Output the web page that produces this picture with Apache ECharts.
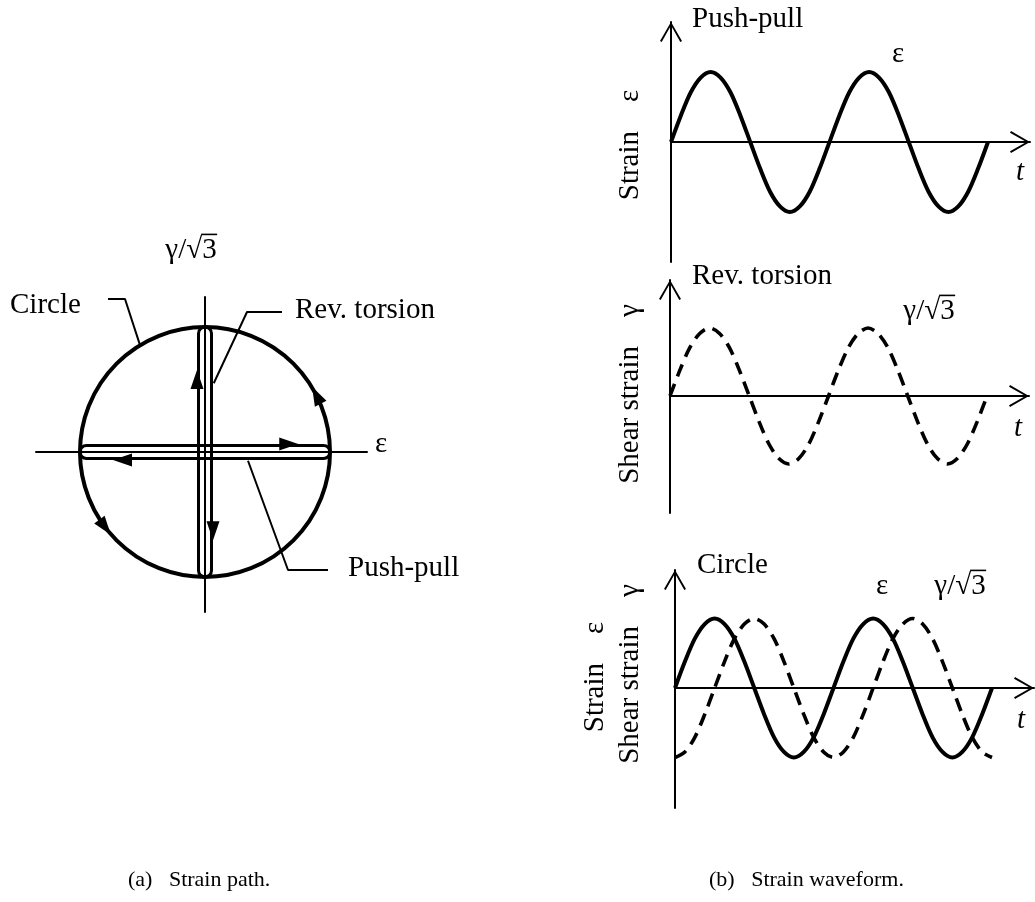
<!DOCTYPE html>
<html>
<head>
<meta charset="utf-8">
<script src="https://cdn.jsdelivr.net/npm/echarts@6/dist/echarts.min.js"></script>
<style>
  html, body { margin: 0; padding: 0; background: #fff; }
  #chart { width: 1035px; height: 902px; }
</style>
</head>
<body>
<div id="chart"></div>
<script>
// ---- (a) Strain path in the (ε, γ/√3) plane ----
// end points of the two proportional paths
const pushPullPath = [[-1, 0], [1, 0]];
const revTorsionPath = [[0, -1], [0, 1]];
// circular path: centre ε, centre γ/√3, radius
const circlePath = [[0, 0, 1]];
// direction arrows on the proportional paths: ε, γ/√3, heading (deg)
const loopArrows = [[0.67, 0, 0], [-0.66, 0, 180], [0, 0.58, 90], [0, -0.63, 270]];
// direction arrows on the circle: ε, γ/√3
const circleArrows = [[0.891, 0.454], [-0.799, -0.602]];

// ---- (b) Strain waveforms, time in quarter cycles ----
const timeQ = [0, 0.25, 0.5, 0.75, 1, 1.25, 1.5, 1.75, 2, 2.25, 2.5, 2.75, 3, 3.25, 3.5, 3.75,
               4, 4.25, 4.5, 4.75, 5, 5.25, 5.5, 5.75, 6, 6.25, 6.5, 6.75, 7, 7.25, 7.5, 7.75, 8];
const epsPushPull = [0, 0.38, 0.71, 0.92, 1, 0.92, 0.71, 0.38, 0, -0.38, -0.71, -0.92, -1, -0.92, -0.71, -0.38,
                     0, 0.38, 0.71, 0.92, 1, 0.92, 0.71, 0.38, 0, -0.38, -0.71, -0.92, -1, -0.92, -0.71, -0.38, 0];
const gamRevTorsion = [0, 0.38, 0.71, 0.92, 1, 0.92, 0.71, 0.38, 0, -0.38, -0.71, -0.92, -1, -0.92, -0.71, -0.38,
                       0, 0.38, 0.71, 0.92, 1, 0.92, 0.71, 0.38, 0, -0.38, -0.71, -0.92, -1, -0.92, -0.71, -0.38, 0];
const epsCircle = [0, 0.38, 0.71, 0.92, 1, 0.92, 0.71, 0.38, 0, -0.38, -0.71, -0.92, -1, -0.92, -0.71, -0.38,
                   0, 0.38, 0.71, 0.92, 1, 0.92, 0.71, 0.38, 0, -0.38, -0.71, -0.92, -1, -0.92, -0.71, -0.38, 0];
const gamCircle = [-1, -0.92, -0.71, -0.38, 0, 0.38, 0.71, 0.92, 1, 0.92, 0.71, 0.38, 0, -0.38, -0.71, -0.92,
                   -1, -0.92, -0.71, -0.38, 0, 0.38, 0.71, 0.92, 1, 0.92, 0.71, 0.38, 0, -0.38, -0.71, -0.92, -1];

const SERIF = '"Liberation Serif", "Times New Roman", "DejaVu Serif", serif';
const FONT = '29px ' + SERIF;

const chart = echarts.init(document.getElementById('chart'), null, { renderer: 'canvas' });

// open chevron used as axis arrow head (pointing up in symbol space)
const chevron = 'path://M11,0L22,19L20.3,20L11,3.6L1.7,20L0,19Z';

function pathAxis(gridIndex, min, max) {
  return {
    type: 'value', gridIndex, min, max,
    axisLine: { onZero: true, lineStyle: { color: '#000', width: 2 } },
    axisTick: { show: false }, axisLabel: { show: false }, splitLine: { show: false }
  };
}
function waveAxis(gridIndex, min, max) {
  return {
    type: 'value', gridIndex, min, max,
    axisLine: {
      onZero: true, lineStyle: { color: '#000', width: 2 },
      symbol: ['none', chevron], symbolSize: [22, 20], symbolOffset: [0, -10]
    },
    axisTick: { show: false }, axisLabel: { show: false }, splitLine: { show: false }
  };
}
const pairs = (xs, ys) => xs.map((x, k) => [x, ys[k]]);

function waveSeries(idx, values, dashed) {
  return {
    type: 'line', xAxisIndex: idx, yAxisIndex: idx, smooth: 0.3,
    showSymbol: false, silent: true, clip: false,
    data: pairs(timeQ, values),
    lineStyle: dashed
      ? { color: '#000', width: 3.6, type: [13, 8], cap: 'butt' }
      : { color: '#000', width: 4 }
  };
}

function leaderSeries(points) {
  return {
    type: 'line', xAxisIndex: 0, yAxisIndex: 0, showSymbol: false, silent: true,
    data: points, lineStyle: { color: '#000', width: 2 }
  };
}

const HW = 6.5; // half width of the proportional-path loops, px

function arrowItem(x, y, heading, dist) {
  const a = (heading + 90) * Math.PI / 180;
  return {
    value: [x, y],
    symbolRotate: heading - 90,
    symbolOffset: [Math.cos(a) * dist, -Math.sin(a) * dist]
  };
}

// "γ/√3" with the vinculum drawn over the 3
const measureCtx = document.createElement('canvas').getContext('2d');
function rootLabel(cx, cy) {
  measureCtx.font = FONT;
  measureCtx.textBaseline = 'middle';
  const wHead = measureCtx.measureText('γ/√').width;
  const wAll = measureCtx.measureText('γ/√3').width;
  const top = measureCtx.measureText('√').actualBoundingBoxAscent;
  const x0 = cx - wAll / 2;
  const yBar = cy - top + 0.8;
  return [
    { type: 'text', x: x0, y: cy, style: { text: 'γ/√3', font: FONT, fill: '#000', align: 'left', verticalAlign: 'middle' } },
    { type: 'line', shape: { x1: x0 + wHead - 1, y1: yBar, x2: x0 + wAll + 0.5, y2: yBar },
      style: { stroke: '#000', lineWidth: 1.6 } }
  ];
}

function label(text, x, y, align, extra) {
  return Object.assign({ type: 'text', x, y,
    style: { text, font: FONT, fill: '#000', align: align || 'center', verticalAlign: 'middle' } }, extra || {});
}
function italicLabel(text, x, y) {
  return { type: 'text', x, y,
    style: { text, font: 'italic ' + FONT, fill: '#000', align: 'center', verticalAlign: 'middle' } };
}
function sideLabel(text, x, y) {
  return label(text, x, y, 'center', { rotation: Math.PI / 2 });
}

const option = {
  animation: false,
  backgroundColor: '#fff',
  grid: [
    { left: 36, top: 297, width: 331, height: 315 },
    { left: 671, top: 22, width: 359, height: 240 },
    { left: 670, top: 280, width: 359, height: 233 },
    { left: 675, top: 570, width: 359, height: 238 }
  ],
  xAxis: [
    pathAxis(0, -1.352, 1.296),
    waveAxis(1, 0, 9.06),
    waveAxis(2, 0, 9.06),
    waveAxis(3, 0, 9.06)
  ],
  yAxis: [
    pathAxis(0, -1.28, 1.24),
    waveAxis(1, -1.714, 1.714),
    waveAxis(2, -1.721, 1.706),
    waveAxis(3, -1.727, 1.698)
  ],
  series: [
    {
      type: 'custom', xAxisIndex: 0, yAxisIndex: 0, silent: true,
      data: circlePath,
      renderItem(params, api) {
        const c = api.coord([api.value(0), api.value(1)]);
        const r = api.size([api.value(2), 0])[0];
        return { type: 'circle', shape: { cx: c[0], cy: c[1], r },
                 style: { fill: 'none', stroke: '#000', lineWidth: 4 } };
      }
    },
    {
      type: 'custom', xAxisIndex: 0, yAxisIndex: 0, silent: true,
      data: [pushPullPath[0].concat(pushPullPath[1]), revTorsionPath[0].concat(revTorsionPath[1])],
      renderItem(params, api) {
        const a = api.coord([api.value(0), api.value(1)]);
        const b = api.coord([api.value(2), api.value(3)]);
        let x0 = Math.min(a[0], b[0]), x1 = Math.max(a[0], b[0]);
        let y0 = Math.min(a[1], b[1]), y1 = Math.max(a[1], b[1]);
        if (x1 - x0 < y1 - y0) { x0 -= HW; x1 += HW; } else { y0 -= HW; y1 += HW; }
        return { type: 'rect', shape: { x: x0, y: y0, width: x1 - x0, height: y1 - y0, r: HW },
                 style: { fill: 'none', stroke: '#000', lineWidth: 3 } };
      }
    },
    {
      type: 'scatter', xAxisIndex: 0, yAxisIndex: 0, silent: true,
      symbol: 'triangle', symbolSize: [13, 19], itemStyle: { color: '#000', opacity: 1 },
      data: loopArrows.map(d => arrowItem(d[0], d[1], d[2], HW + 1.5))
    },
    {
      type: 'scatter', xAxisIndex: 0, yAxisIndex: 0, silent: true,
      symbol: 'triangle', symbolSize: [13, 19], itemStyle: { color: '#000', opacity: 1 },
      data: circleArrows.map(d => arrowItem(d[0], d[1], Math.atan2(d[1], d[0]) * 180 / Math.PI + 90, 0))
    },
    leaderSeries([[-0.776, 1.224], [-0.64, 1.224], [-0.52, 0.855]]),
    leaderSeries([[0.616, 1.12], [0.336, 1.12], [0.07, 0.55]]),
    leaderSeries([[0.344, -0.07], [0.664, -0.944], [0.984, -0.944]]),

    waveSeries(1, epsPushPull, false),
    waveSeries(2, gamRevTorsion, true),
    waveSeries(3, epsCircle, false),
    waveSeries(3, gamCircle, true)
  ],
  graphic: [].concat(
    // (a) labels
    rootLabel(191, 250),
    [
      label('ε', 381, 444),
      label('Circle', 10, 305, 'left'),
      label('Rev. torsion', 295, 310, 'left'),
      label('Push-pull', 348, 568, 'left'),

      // (b) push-pull
      label('Push-pull', 692, 19, 'left'),
      label('ε', 898, 54),
      italicLabel('t', 1020, 172),
      sideLabel('Strain    ε', 630, 145),

      // (b) reversed torsion
      label('Rev. torsion', 692, 276, 'left'),
      italicLabel('t', 1018, 428),
      sideLabel('Shear strain    γ', 630, 394),

      // (b) circle
      label('Circle', 697, 565, 'left'),
      label('ε', 882, 586),
      italicLabel('t', 1021, 720),
      sideLabel('Strain    ε', 595, 677),
      sideLabel('Shear strain    γ', 630, 674),

      // captions
      { type: 'text', x: 128, y: 880, style: { text: '(a)   Strain path.', font: '22px ' + SERIF, fill: '#000', align: 'left', verticalAlign: 'middle' } },
      { type: 'text', x: 709, y: 880, style: { text: '(b)   Strain waveform.', font: '22px ' + SERIF, fill: '#000', align: 'left', verticalAlign: 'middle' } }
    ],
    rootLabel(929, 311),
    rootLabel(960, 586)
  )
};

chart.setOption(option);
</script>
</body>
</html>
